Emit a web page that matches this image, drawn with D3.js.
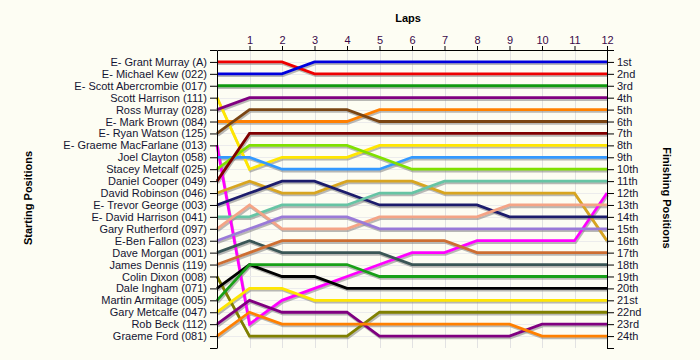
<!DOCTYPE html>
<html><head><meta charset="utf-8">
<script src="https://cdn.jsdelivr.net/npm/d3@7"></script>
<style>
body{margin:0;background:#fdfdf3;}
svg{display:block;font-family:"Liberation Sans",Arial,sans-serif;}
</style></head>
<body><svg id="c" width="700" height="360"></svg>
<script>
const drivers = ["E- Grant Murray (A)","E- Michael Kew (022)","E- Scott Abercrombie (017)","Scott Harrison (111)","Ross Murray (028)","E- Mark Brown (084)","E- Ryan Watson (125)","E- Graeme MacFarlane (013)","Joel Clayton (058)","Stacey Metcalf (025)","Daniel Cooper (049)","David Robinson (046)","E- Trevor George (003)","E- David Harrison (041)","Gary Rutherford (097)","E-Ben Fallon (023)","Dave Morgan (001)","James Dennis (119)","Colin Dixon (008)","Dale Ingham (071)","Martin Armitage (005)","Gary Metcalfe (047)","Rob Beck (112)","Graeme Ford (081)"];
const finishLabels = ["1st","2nd","3rd","4th","5th","6th","7th","8th","9th","10th","11th","12th","13th","14th","15th","16th","17th","18th","19th","20th","21st","22nd","23rd","24th"];
const laps = [0,1,2,3,4,5,6,7,8,9,10,11,12];
const lapTickLabels = ["1","2","3","4","5","6","7","8","9","10","11","12"];
// position of each driver at laps 0..12
const lapPositions = [
 [1,1,1,2,2,2,2,2,2,2,2,2,2],
 [2,2,2,1,1,1,1,1,1,1,1,1,1],
 [3,3,3,3,3,3,3,3,3,3,3,3,3],
 [4,10,9,9,9,8,8,8,8,8,8,8,8],
 [5,4,4,4,4,4,4,4,4,4,4,4,4],
 [6,6,6,6,6,5,5,5,5,5,5,5,5],
 [7,5,5,5,5,6,6,6,6,6,6,6,6],
 [8,23,21,20,19,18,17,17,16,16,16,16,12],
 [9,9,10,10,10,10,9,9,9,9,9,9,9],
 [10,8,8,8,8,9,10,10,10,10,10,10,10],
 [11,7,7,7,7,7,7,7,7,7,7,7,7],
 [12,11,12,12,11,11,11,12,12,12,12,12,16],
 [13,12,11,11,12,13,13,13,13,14,14,14,14],
 [14,14,13,13,13,12,12,11,11,11,11,11,11],
 [15,13,15,15,15,14,14,14,14,13,13,13,13],
 [16,15,14,14,14,15,15,15,15,15,15,15,15],
 [17,16,17,17,17,17,18,18,18,18,18,18,18],
 [18,17,16,16,16,16,16,16,17,17,17,17,17],
 [19,24,24,24,24,22,22,22,22,22,22,22,22],
 [20,18,19,19,20,20,20,20,20,20,20,20,20],
 [21,18,18,18,18,19,19,19,19,19,19,19,19],
 [22,20,20,21,21,21,21,21,21,21,21,21,21],
 [23,21,22,22,22,24,24,24,24,24,23,23,23],
 [24,22,23,23,23,23,23,23,23,23,24,24,24]
];
const colors = ["#ee0000","#0000dd","#109a10","#ffe600","#800080","#ff8000","#7a4513","#ff00ff","#3399ff","#80e000","#800000","#d8a520","#1c1c6c","#66c4a4","#f4a486","#9a7ad8","#3a5656","#cd6e32","#808000","#000000","#18a018","#ffe600","#800080","#ff8000"];

const svg = d3.select("#c");
const x = d3.scaleLinear().domain([0,12]).range([217,607]);
const y = d3.scaleLinear().domain([0,25]).range([50,348]);
const textCol = "#141432";

// gridlines
const g = svg.append("g");
g.selectAll("line.v").data(laps.slice(1)).join("line")
  .attr("x1",d=>Math.round(x(d))+0.5).attr("x2",d=>Math.round(x(d))+0.5)
  .attr("y1",y(0)).attr("y2",y(25)).attr("stroke","#e2e2e2");
g.selectAll("line.h").data(d3.range(1,25)).join("line")
  .attr("x1",x(0)).attr("x2",x(12))
  .attr("y1",d=>Math.round(y(d))+0.5).attr("y2",d=>Math.round(y(d))+0.5).attr("stroke","#ececec");

const lineGen = d3.line().x((d,i)=>x(laps[i])).y(d=>y(d));
// shadows
svg.append("g").attr("transform","translate(1,2)").selectAll("path").data(lapPositions).join("path")
  .attr("d",lineGen).attr("fill","none").attr("stroke","#8a8a8a").attr("stroke-opacity",0.6).attr("stroke-width",2.4);
svg.append("g").selectAll("path").data(lapPositions).join("path")
  .attr("d",lineGen).attr("fill","none").attr("stroke",(d,i)=>colors[i]).attr("stroke-width",2.8);

// axes
const leftAxis = d3.axisLeft(y).tickValues(d3.range(0,26)).tickSize(7).tickSizeOuter(0).tickPadding(3)
  .tickFormat(d=> (d>=1&&d<=24)? drivers[d-1] : "");
const rightAxis = d3.axisRight(y).tickValues(d3.range(0,26)).tickSize(7).tickSizeOuter(0).tickPadding(3)
  .tickFormat(d=> (d>=1&&d<=24)? finishLabels[d-1] : "");
const topAxis = d3.axisTop(x).tickValues(laps.slice(1)).tickSize(4).tickSizeOuter(0).tickPadding(2)
  .tickFormat((d,i)=>lapTickLabels[i]);
function styleAxis(sel,col){
  sel.selectAll("path,line").attr("stroke","#000");
  sel.selectAll("text").attr("fill",col).attr("font-size",11).attr("font-family","'Liberation Sans',Arial,sans-serif");
}
svg.append("g").attr("transform",`translate(${x(0)},0)`).call(leftAxis).call(s=>styleAxis(s,textCol));
svg.append("g").attr("transform",`translate(${x(12)},0)`).call(rightAxis).call(s=>styleAxis(s,textCol));
svg.append("g").attr("transform",`translate(0,${y(0)})`).call(topAxis).call(s=>styleAxis(s,"#3a0a4a"));

// titles
svg.append("text").attr("x",408).attr("y",22).attr("text-anchor","middle")
  .attr("font-size",11).attr("font-weight","bold").attr("fill","#000").text("Laps");
svg.append("text").attr("transform","translate(32,198) rotate(-90)").attr("text-anchor","middle")
  .attr("font-size",11).attr("font-weight","bold").attr("fill","#000").text("Starting Positions");
svg.append("text").attr("transform","translate(663,198) rotate(90)").attr("text-anchor","middle")
  .attr("font-size",11).attr("font-weight","bold").attr("fill","#000").text("Finishing Positions");
</script></body></html>
